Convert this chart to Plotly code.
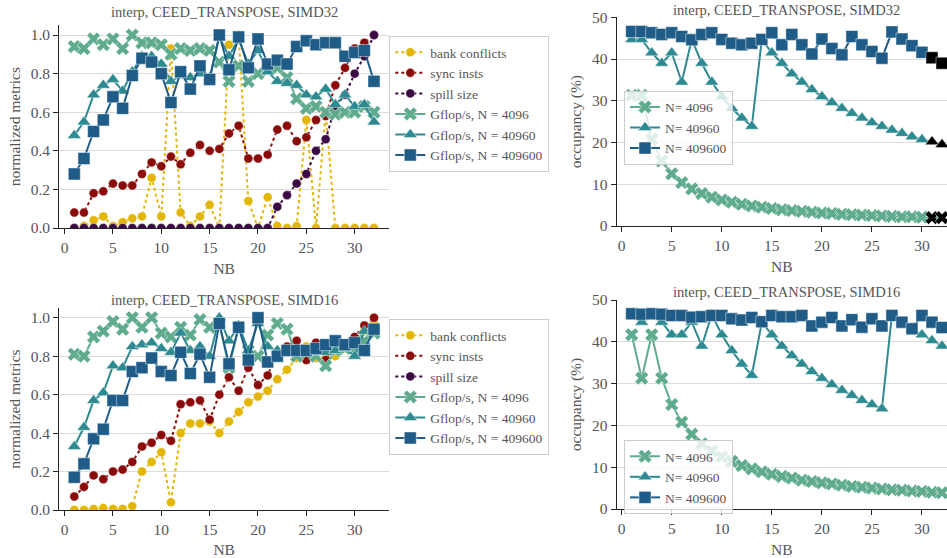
import plotly.graph_objects as go

NB = list(range(1, 33))

# ---- SIMD32 normalized metrics ----
s32_bank = [0.0, 0.01, 0.04, 0.06, 0.01, 0.03, 0.05, 0.06, 0.26, 0.06, 0.93, 0.08, 0.01, 0.06, 0.12, 0.0,
            0.95, 1.00, 0.14, 0.0, 0.16, 0.01, 0.0, 0.01, 0.56, 0.0, 0.60, 0.0, 0.0, 0.0, 0.0, 0.0]
s32_sync = [0.08, 0.08, 0.18, 0.19, 0.23, 0.22, 0.22, 0.28, 0.34, 0.32, 0.37, 0.33, 0.39, 0.43, 0.40, 0.41,
            0.49, 0.53, 0.36, 0.36, 0.38, 0.51, 0.53, 0.45, 0.47, 0.56, 0.58, 0.74, 0.83, 0.93, 0.96, 1.00]
s32_spill = [0.0] * 21 + [0.11, 0.17, 0.23, 0.28, 0.40, 0.46, 0.63, 0.69, 0.80, 0.89, 1.00]
s32_g4096 = [0.94, 0.93, 0.98, 0.95, 0.98, 0.93, 1.00, 0.96, 0.96, 0.95, 0.90, 0.93, 0.92, 0.93, 0.92, 0.86,
             0.76, 0.84, 0.76, 0.80, 0.82, 0.83, 0.78, 0.67, 0.62, 0.63, 0.60, 0.59, 0.60, 0.60, 0.63, 0.60]
s32_g40960 = [0.48, 0.55, 0.69, 0.74, 0.77, 0.71, 0.81, 0.89, 0.89, 0.85, 0.76, 0.79, 0.78, 0.80, 0.78, 0.99,
              0.89, 0.98, 0.85, 0.92, 0.81, 0.76, 0.75, 0.74, 0.69, 0.68, 0.72, 0.64, 0.69, 0.63, 0.64, 0.55]
s32_g409600 = [0.28, 0.36, 0.50, 0.56, 0.68, 0.62, 0.79, 0.88, 0.86, 0.80, 0.65, 0.81, 0.72, 0.84, 0.77, 1.00,
               0.82, 0.99, 0.83, 0.98, 0.85, 0.87, 0.85, 0.94, 0.97, 0.95, 0.96, 0.96, 0.89, 0.91, 0.92, 0.76]

# ---- SIMD16 normalized metrics ----
s16_bank = [0.0, 0.0, 0.005, 0.01, 0.005, 0.005, 0.02, 0.20, 0.25, 0.30, 0.04, 0.40, 0.45, 0.45, 0.46, 0.40,
            0.46, 0.51, 0.56, 0.59, 0.62, 0.68, 0.73, 0.79, 0.85, 0.79, 0.79, 0.80, 0.84, 0.88, 0.93, 0.97]
s16_sync = [0.07, 0.12, 0.18, 0.16, 0.20, 0.21, 0.25, 0.33, 0.35, 0.39, 0.36, 0.55, 0.56, 0.57, 0.47, 0.60,
            0.69, 0.62, 0.74, 0.65, 0.70, 0.82, 0.85, 0.88, 0.78, 0.87, 0.78, 0.86, 0.86, 0.90, 0.96, 1.00]
s16_spill = [None] * 32
s16_g4096 = [0.81, 0.80, 0.90, 0.93, 0.98, 0.94, 1.00, 0.95, 1.00, 0.92, 0.90, 0.95, 0.91, 0.99, 0.95, 0.97,
             0.74, 0.95, 0.83, 0.80, 0.91, 0.97, 0.94, 0.80, 0.82, 0.80, 0.75, 0.83, 0.84, 0.84, 0.88, 0.92]
s16_g40960 = [0.33, 0.43, 0.57, 0.61, 0.75, 0.74, 0.85, 0.86, 0.87, 0.84, 0.82, 0.92, 0.83, 0.85, 0.80, 1.00,
              0.88, 0.96, 0.83, 0.97, 0.85, 0.83, 0.83, 0.82, 0.82, 0.82, 0.82, 0.83, 0.84, 0.80, 0.93, 0.94]
s16_g409600 = [0.17, 0.24, 0.37, 0.42, 0.57, 0.57, 0.72, 0.74, 0.79, 0.72, 0.70, 0.82, 0.71, 0.81, 0.69, 0.97,
               0.76, 0.95, 0.78, 1.00, 0.77, 0.80, 0.83, 0.83, 0.83, 0.84, 0.86, 0.88, 0.86, 0.87, 0.83, 0.94]

# ---- occupancy (%) ----
o32_4096 = [31.3, 31.3, 20.8, 15.6, 12.5, 10.4, 8.9, 7.8, 6.9, 6.25, 5.7, 5.2, 4.8, 4.5, 4.2, 3.9,
            3.7, 3.5, 3.3, 3.1, 3.0, 2.8, 2.7, 2.6, 2.5, 2.4, 2.3, 2.2, 2.2, 2.1, 2.0, 2.0]
o32_40960 = [44.7, 44.7, 41.5, 39.0, 41.5, 34.5, 44.7, 39.0, 34.5, 31.0, 28.2, 25.9, 23.9, 44.7, 41.5, 39.0,
             36.5, 34.5, 32.7, 31.0, 29.6, 28.2, 27.0, 25.9, 24.8, 23.9, 23.0, 22.2, 21.4, 20.7, 20.2, 19.5]
o32_409600 = [46.6, 46.6, 46.3, 45.9, 46.3, 45.4, 44.6, 45.9, 46.3, 44.7, 43.8, 43.4, 43.8, 44.7, 46.3, 43.4,
              45.9, 43.4, 41.2, 44.8, 42.5, 41.0, 45.4, 43.4, 41.8, 40.2, 46.5, 44.8, 43.2, 41.6, 40.3, 39.0]
o16_4096 = [41.7, 31.3, 41.7, 31.3, 25.0, 20.8, 17.9, 15.6, 13.9, 12.5, 11.4, 10.4, 9.6, 8.9, 8.3, 7.8,
            7.4, 6.9, 6.6, 6.25, 6.0, 5.7, 5.4, 5.2, 5.0, 4.8, 4.6, 4.5, 4.3, 4.2, 4.0, 3.9]
o16_40960 = [46.5, 44.7, 46.5, 44.7, 41.7, 41.7, 44.7, 39.0, 46.5, 41.7, 37.9, 34.7, 32.0, 44.7, 41.7, 39.0,
             36.7, 34.7, 32.9, 31.3, 29.8, 28.4, 27.2, 26.0, 25.0, 24.0, 46.5, 44.7, 43.1, 41.7, 40.3, 39.0]
o16_409600 = [46.7, 46.6, 46.7, 46.6, 46.3, 46.3, 45.9, 46.0, 46.3, 46.3, 45.5, 45.2, 45.8, 44.8, 46.3, 46.0,
              46.0, 46.3, 43.8, 44.7, 45.8, 43.8, 45.3, 43.5, 45.5, 43.8, 46.3, 44.7, 43.1, 46.3, 44.7, 43.4]
o32_highlight_nb = [31, 32]

metric_names = ["bank conflicts", "sync insts", "spill size"]
gflop_names = ["Gflop/s, N = 4096", "Gflop/s, N = 40960", "Gflop/s, N = 409600"]
occ_names = ["N= 4096", "N= 40960", "N= 409600"]

C_BANK, C_SYNC, C_SPILL = "#e3b505", "#8b0a0a", "#3b0a45"
C_G = ["#5fab8e", "#2d8a90", "#1f5c88"]
SYMS = ["x", "triangle-up", "square"]
SIZES = [12, 12, 12]
FONT = "Liberation Serif"
TXT = "#555555"

fig = go.Figure()

def add_metrics(xa, ya, leg, bank, sync, spill, g1, g2, g3):
    for name, vals, col in zip(metric_names, [bank, sync, spill], [C_BANK, C_SYNC, C_SPILL]):
        fig.add_trace(go.Scatter(
            x=NB, y=vals, name=name, mode="lines+markers", xaxis=xa, yaxis=ya, legend=leg,
            line=dict(color=col, width=2, dash="dot"),
            marker=dict(symbol="circle", size=9, color=col, line=dict(color="rgba(255,255,255,0.5)", width=0.8)),
        ))
    for i, (name, vals) in enumerate(zip(gflop_names, [g1, g2, g3])):
        fig.add_trace(go.Scatter(
            x=NB, y=vals, name=name, mode="lines+markers", xaxis=xa, yaxis=ya, legend=leg,
            line=dict(color=C_G[i], width=2),
            marker=dict(symbol=SYMS[i], size=SIZES[i], color=C_G[i],
                        line=dict(color="rgba(255,255,255,0.45)", width=1)),
        ))

def add_occ(xa, ya, leg, series, highlight):
    for i, (name, vals) in enumerate(zip(occ_names, series)):
        cols = ["black" if nb in highlight else C_G[i] for nb in NB]
        fig.add_trace(go.Scatter(
            x=NB, y=vals, name=name, mode="lines+markers", xaxis=xa, yaxis=ya, legend=leg,
            line=dict(color=C_G[i], width=2),
            marker=dict(symbol=SYMS[i], size=SIZES[i], color=cols,
                        line=dict(color="rgba(255,255,255,0.45)", width=1)),
        ))

add_metrics("x", "y", "legend", s32_bank, s32_sync, s32_spill, s32_g4096, s32_g40960, s32_g409600)
add_occ("x2", "y2", "legend2", [o32_4096, o32_40960, o32_409600], o32_highlight_nb)
add_metrics("x3", "y3", "legend3", s16_bank, s16_sync, s16_spill, s16_g4096, s16_g40960, s16_g409600)
add_occ("x4", "y4", "legend4", [o16_4096, o16_40960, o16_409600], [])

W, H = 947, 558
def px(v): return v / W
def py(v): return (H - v) / H

TF = 15.5
xcommon = dict(showgrid=False, zeroline=False, showline=True, linecolor="#222222", linewidth=1.2,
               ticks="outside", ticklen=5, tickcolor="#222222", tickwidth=1.2, automargin=False,
               tickvals=[0, 5, 10, 15, 20, 25, 30], tickfont=dict(family=FONT, size=TF, color=TXT),
               title=dict(text="NB", font=dict(family=FONT, size=TF, color=TXT), standoff=8))
ycommon = dict(showgrid=True, gridcolor="#dcdcdc", gridwidth=1, zeroline=False, showline=True,
               linecolor="#222222", linewidth=1.2, ticks="outside", ticklen=5, tickcolor="#222222",
               tickwidth=1.2, automargin=False, tickfont=dict(family=FONT, size=TF, color=TXT))

legcommon = dict(bgcolor="rgba(255,255,255,0.8)", bordercolor="#cccccc", borderwidth=1,
                 font=dict(family=FONT, size=13.5, color=TXT), xanchor="left", yanchor="top",
                 tracegroupgap=0, itemwidth=30)

fig.update_layout(
    width=W, height=H, margin=dict(l=0, r=0, t=0, b=0, autoexpand=False),
    plot_bgcolor="white", paper_bgcolor="white", font=dict(family=FONT, color=TXT),
    xaxis=dict(xcommon, domain=[px(59.3), px(389)], range=[-0.55, 33.55], anchor="y"),
    yaxis=dict(ycommon, domain=[py(228), py(25.4)], range=[0, 1.05], anchor="x",
               tickvals=[0, 0.2, 0.4, 0.6, 0.8, 1.0], tickformat=".1f",
               title=dict(text="normalized metrics", font=dict(family=FONT, size=TF, color=TXT), standoff=6)),
    xaxis2=dict(xcommon, domain=[px(616.7), 1.0], range=[-0.5, 32.5], anchor="y2"),
    yaxis2=dict(ycommon, domain=[py(226), py(17.3)], range=[0, 50], anchor="x2",
                tickvals=[0, 10, 20, 30, 40, 50],
                title=dict(text="occupancy (%)", font=dict(family=FONT, size=TF, color=TXT), standoff=6)),
    xaxis3=dict(xcommon, domain=[px(59.3), px(389)], range=[-0.55, 33.55], anchor="y3"),
    yaxis3=dict(ycommon, domain=[py(510), py(308.1)], range=[0, 1.05], anchor="x3",
                tickvals=[0, 0.2, 0.4, 0.6, 0.8, 1.0], tickformat=".1f",
                title=dict(text="normalized metrics", font=dict(family=FONT, size=TF, color=TXT), standoff=6)),
    xaxis4=dict(xcommon, domain=[px(616.7), 1.0], range=[-0.5, 32.5], anchor="y4"),
    yaxis4=dict(ycommon, domain=[py(509), py(300)], range=[0, 50], anchor="x4",
                tickvals=[0, 10, 20, 30, 40, 50],
                title=dict(text="occupancy (%)", font=dict(family=FONT, size=TF, color=TXT), standoff=6)),
    legend=dict(legcommon, x=px(389.3), y=py(36)),
    legend2=dict(legcommon, x=px(624), y=py(90.7)),
    legend3=dict(legcommon, x=px(389.3), y=py(319)),
    legend4=dict(legcommon, x=px(624), y=py(440)),
    showlegend=True,
)

titles = [("interp, CEED_TRANSPOSE, SIMD32", 224, 12), ("interp, CEED_TRANSPOSE, SIMD32", 786.7, 10),
          ("interp, CEED_TRANSPOSE, SIMD16", 224, 300), ("interp, CEED_TRANSPOSE, SIMD16", 786.7, 292)]
for t, cx, cy in titles:
    fig.add_annotation(text=t, x=px(cx), y=py(cy), xref="paper", yref="paper", showarrow=False,
                       xanchor="center", yanchor="middle", font=dict(family=FONT, size=14.5, color=TXT))

fig.write_html("out.html")
